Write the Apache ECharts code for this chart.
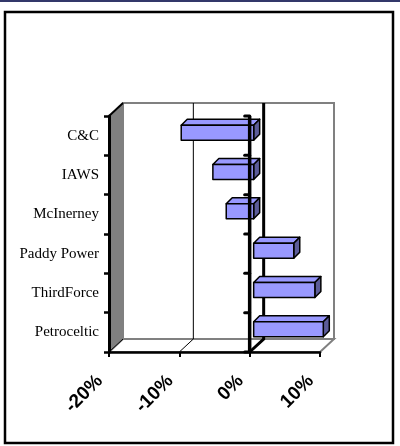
<!DOCTYPE html>
<html>
<head>
<meta charset="utf-8">
<script src="https://cdn.jsdelivr.net/npm/echarts@6/dist/echarts.min.js"></script>
<style>
  html, body { margin: 0; padding: 0; background: #fff; }
  #main { width: 400px; height: 446px; }
</style>
</head>
<body>
<div id="main"></div>
<script>
// data (percent change)
const categories = ['C&C', 'IAWS', 'McInerney', 'Paddy Power', 'ThirdForce', 'Petroceltic']
const values = [-10.3, -5.8, -3.9, 5.7, 8.7, 9.9]
const xTicks = [-20, -10, 0, 10]

// depth of the fake 3d box
const DX = 14, DY = 13

// walls, floor and gridlines behind the bars
function renderScene(params, api) {
  const cs = params.coordSys
  const L = cs.x, R = cs.x + cs.width, T = cs.y, B = cs.y + cs.height
  const children = []
  children.push({ type: 'rect', shape: { x: L + DX, y: T - DY, width: R - L, height: B - T },
    style: { fill: '#fff', stroke: '#808080', lineWidth: 2 } })
  children.push({ type: 'polygon', shape: { points: [[L, B], [R, B], [R + DX, B - DY], [L + DX, B - DY]] },
    style: { fill: '#fff', stroke: '#808080', lineWidth: 2 } })
  children.push({ type: 'polygon', shape: { points: [[L, T], [L + DX, T - DY], [L + DX, B - DY], [L, B]] },
    style: { fill: '#808080', stroke: '#808080', lineWidth: 1 } })
  children.push({ type: 'line', shape: { x1: L, y1: T, x2: L + DX, y2: T - DY },
    style: { stroke: '#000', lineWidth: 2 } })
  children.push({ type: 'line', shape: { x1: L, y1: B, x2: L + DX, y2: B - DY },
    style: { stroke: '#000', lineWidth: 1 } })
  xTicks.slice(1, -1).forEach(function (v) {
    const x = api.coord([v, 0])[0]
    children.push({ type: 'polyline', shape: { points: [[x, B], [x + DX, B - DY], [x + DX, T - DY]] },
      style: { stroke: '#000', lineWidth: v === 0 ? 3 : 1, fill: null } })
  })
  return { type: 'group', children: children }
}

// 3d bar: front, top and side faces
function renderBar(params, api) {
  const v = api.value(0), i = api.value(1)
  const p0 = api.coord([0, i]), p1 = api.coord([v, i])
  const h = 15, sx = 4, sy = 3, d = 6
  const xl = Math.min(p0[0], p1[0]) + sx, xr = Math.max(p0[0], p1[0]) + sx
  const yt = p0[1] - sy - h / 2, yb = yt + h
  const line = { stroke: '#000', lineWidth: 1.5, lineJoin: 'round' }
  return {
    type: 'group',
    children: [
      { type: 'polygon', shape: { points: [[xl, yt], [xr, yt], [xr + d, yt - d], [xl + d, yt - d]] },
        style: Object.assign({ fill: '#9999ff' }, line) },
      { type: 'polygon', shape: { points: [[xr, yt], [xr + d, yt - d], [xr + d, yb - d], [xr, yb]] },
        style: Object.assign({ fill: '#5c5c99' }, line) },
      { type: 'rect', shape: { x: xl, y: yt, width: xr - xl, height: h },
        style: Object.assign({ fill: '#9999ff' }, line) }
    ]
  }
}

// the category axis that crosses at 0, in front of the bars
function renderZeroAxis(params, api) {
  const cs = params.coordSys
  const T = cs.y, B = cs.y + cs.height
  const x = api.coord([0, 0])[0]
  const band = api.size([0, 1])[1]
  const children = [{ type: 'line', shape: { x1: x, y1: T, x2: x, y2: B }, style: { stroke: '#000', lineWidth: 3.5 } }]
  for (let k = 0; k <= categories.length; k++) {
    const y = T + k * band
    children.push({ type: 'line', shape: { x1: x - 5, y1: y, x2: x, y2: y },
      style: { stroke: '#000', lineWidth: 3, lineCap: 'round' } })
  }
  return { type: 'group', children: children }
}

var myChart = echarts.init(document.getElementById('main'))

const option = {
  animation: false,
  backgroundColor: '#fff',
  graphic: [
    { type: 'rect', shape: { x: 0, y: 0, width: 400, height: 2 }, style: { fill: '#33386a' } },
    { type: 'rect', shape: { x: 5, y: 12, width: 388, height: 431 }, style: { fill: null, stroke: '#000', lineWidth: 2.5 } }
  ],
  grid: { left: 109, top: 116, width: 211, height: 236, containLabel: false },
  xAxis: {
    type: 'value',
    min: -20,
    max: 10,
    interval: 10,
    z: 10,
    axisLine: { show: true, lineStyle: { color: '#000', width: 2.5 } },
    axisTick: { show: true, length: 5, lineStyle: { color: '#000', width: 2 } },
    splitLine: { show: false },
    axisLabel: {
      formatter: '{value}%',
      rotate: 45,
      margin: 17,
      padding: [0, 13, 0, 0],
      color: '#000',
      fontFamily: 'Liberation Sans',
      fontWeight: 'bold',
      fontSize: 19
    }
  },
  yAxis: {
    type: 'category',
    data: categories,
    inverse: true,
    z: 10,
    axisLine: { show: true, onZero: false, lineStyle: { color: '#000', width: 3 } },
    axisTick: { show: true, length: 5, lineStyle: { color: '#000', width: 2.5 } },
    axisLabel: {
      margin: 10,
      color: '#000',
      fontFamily: 'Liberation Serif',
      fontSize: 15
    }
  },
  series: [
    { type: 'custom', z: 1, silent: true, renderItem: renderScene, data: [[0, 0]] },
    { type: 'custom', z: 3, renderItem: renderBar, data: values.map((v, i) => [v, i]) },
    { type: 'custom', z: 4, silent: true, renderItem: renderZeroAxis, data: [[0, 0]] }
  ]
}

myChart.setOption(option)
</script>
</body>
</html>
